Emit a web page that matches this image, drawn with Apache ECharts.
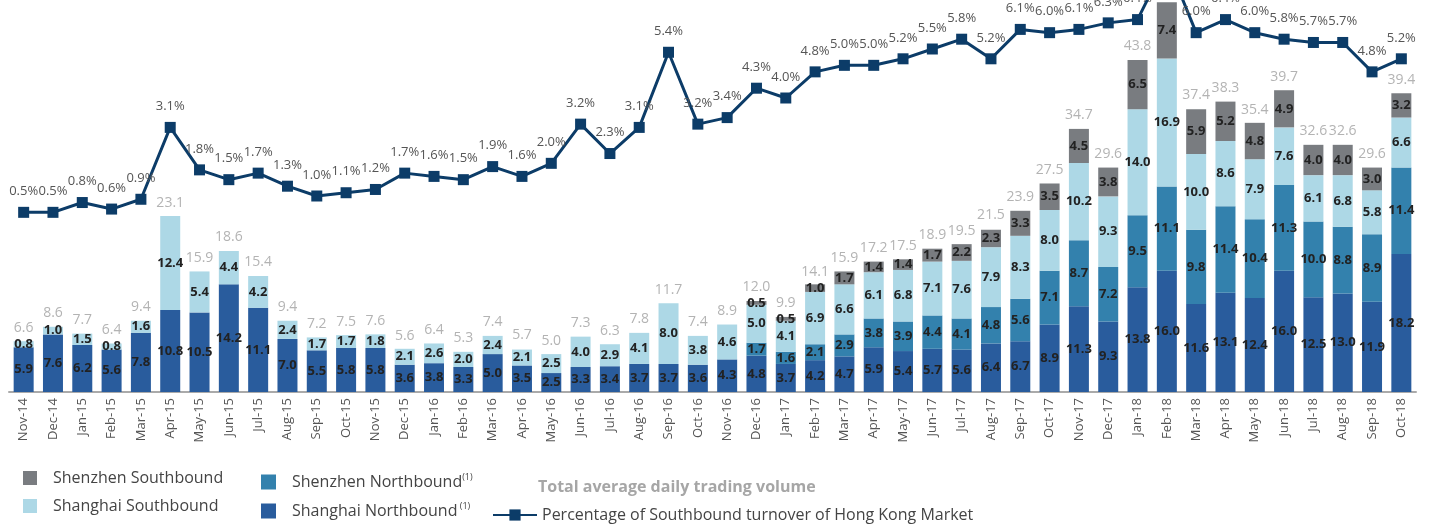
<!DOCTYPE html>
<html>
<head>
<meta charset="utf-8">
<script src="https://cdn.jsdelivr.net/npm/echarts@6/dist/echarts.min.js"></script>
<style>
  html, body { margin: 0; padding: 0; background: #fff; }
  #chart { width: 1432px; height: 527px; }
</style>
</head>
<body>
<div id="chart"></div>
<script>
const months = ["Nov-14","Dec-14","Jan-15","Feb-15","Mar-15","Apr-15","May-15","Jun-15","Jul-15","Aug-15","Sep-15","Oct-15",
  "Nov-15","Dec-15","Jan-16","Feb-16","Mar-16","Apr-16","May-16","Jun-16","Jul-16","Aug-16","Sep-16","Oct-16",
  "Nov-16","Dec-16","Jan-17","Feb-17","Mar-17","Apr-17","May-17","Jun-17","Jul-17","Aug-17","Sep-17","Oct-17",
  "Nov-17","Dec-17","Jan-18","Feb-18","Mar-18","Apr-18","May-18","Jun-18","Jul-18","Aug-18","Sep-18","Oct-18"];

const shanghaiNorth = [5.9,7.6,6.2,5.6,7.8,10.8,10.5,14.2,11.1,7.0,5.5,5.8,
  5.8,3.6,3.8,3.3,5.0,3.5,2.5,3.3,3.4,3.7,3.7,3.6,
  4.3,4.8,3.7,4.2,4.7,5.9,5.4,5.7,5.6,6.4,6.7,8.9,
  11.3,9.3,13.8,16.0,11.6,13.1,12.4,16.0,12.5,13.0,11.9,18.2];

const shenzhenNorth = [null,null,null,null,null,null,null,null,null,null,null,null,
  null,null,null,null,null,null,null,null,null,null,null,null,
  null,1.7,1.6,2.1,2.9,3.8,3.9,4.4,4.1,4.8,5.6,7.1,
  8.7,7.2,9.5,11.1,9.8,11.4,10.4,11.3,10.0,8.8,8.9,11.4];

const shanghaiSouth = [0.8,1.0,1.5,0.8,1.6,12.4,5.4,4.4,4.2,2.4,1.7,1.7,
  1.8,2.1,2.6,2.0,2.4,2.1,2.5,4.0,2.9,4.1,8.0,3.8,
  4.6,5.0,4.1,6.9,6.6,6.1,6.8,7.1,7.6,7.9,8.3,8.0,
  10.2,9.3,14.0,16.9,10.0,8.6,7.9,7.6,6.1,6.8,5.8,6.6];

const shenzhenSouth = [null,null,null,null,null,null,null,null,null,null,null,null,
  null,null,null,null,null,null,null,null,null,null,null,null,
  null,0.5,0.5,1.0,1.7,1.4,1.4,1.7,2.2,2.3,3.3,3.5,
  4.5,3.8,6.5,7.4,5.9,5.2,4.8,4.9,4.0,4.0,3.0,3.2];

const totals = [6.6,8.6,7.7,6.4,9.4,23.1,15.9,18.6,15.4,9.4,7.2,7.5,
  7.6,5.6,6.4,5.3,7.4,5.7,5.0,7.3,6.3,7.8,11.7,7.4,
  8.9,12.0,9.9,14.1,15.9,17.2,17.5,18.9,19.5,21.5,23.9,27.5,
  34.7,29.6,43.8,51.4,37.4,38.3,35.4,39.7,32.6,32.6,29.6,39.4];

const southPct = [0.5,0.5,0.8,0.6,0.9,3.1,1.8,1.5,1.7,1.3,1.0,1.1,
  1.2,1.7,1.6,1.5,1.9,1.6,2.0,3.2,2.3,3.1,5.4,3.2,
  3.4,4.3,4.0,4.8,5.0,5.0,5.2,5.5,5.8,5.2,6.1,6.0,
  6.1,6.3,6.4,8.2,6.0,6.4,6.0,5.8,5.7,5.7,4.8,5.2];

const FONT = "Open Sans";
const PCT_NAME = "Percentage of Southbound turnover of Hong Kong Market";

const segLabel = {
  show: true,
  position: "inside",
  color: "#222",
  fontWeight: "bold",
  fontSize: 13,
  fontFamily: FONT,
  formatter: (p) => (p.value == null ? "" : p.value.toFixed(1))
};

function barSeries(name, data, color) {
  return {
    name: name,
    type: "bar",
    stack: "vol",
    barWidth: 20,
    data: data,
    itemStyle: { color: color },
    label: segLabel
  };
}

const legendRich = {
  gap: { width: 11 },
  txt: { fontSize: 16, color: "#444", fontFamily: FONT },
  sup: { fontSize: 9, color: "#444", fontFamily: FONT, padding: [0, 0, 9, 0] }
};

// one legend block per item so each sits where the reference puts it
function legendItem(name, left, top, size, sup) {
  return {
    left: left, top: top, itemWidth: size, itemHeight: size, icon: "rect",
    data: [name],
    formatter: (n) => "{gap|}{txt|" + n + "}" + (sup ? "{sup|" + sup + "}" : ""),
    textStyle: { rich: legendRich }
  };
}

const chart = echarts.init(document.getElementById("chart"));
chart.setOption({
  animation: false,
  textStyle: { fontFamily: FONT },
  grid: { left: 9, right: 16, top: 0, bottom: 135, containLabel: false },
  xAxis: {
    type: "category",
    data: months,
    axisTick: { show: false },
    axisLine: { lineStyle: { color: "#aaa", width: 2 } },
    axisLabel: { rotate: 90, interval: 0, color: "#555", fontSize: 13, margin: 6, fontFamily: FONT }
  },
  yAxis: [
    { type: "value", min: 0, max: 51.7, show: false },
    { type: "value", min: -5, max: 7, show: false }
  ],
  legend: [
    legendItem("Shenzhen Southbound", 18, 465, 14),
    legendItem("Shanghai Southbound", 18, 493, 14),
    legendItem("Shenzhen Northbound", 256, 468, 15, "(1)"),
    legendItem("Shanghai Northbound", 256, 497, 15, " (1)"),
    {
      left: 487, top: 502, itemWidth: 44, itemHeight: 14,
      data: [PCT_NAME],
      textStyle: { fontSize: 16, color: "#444", fontFamily: FONT }
    }
  ],
  graphic: [
    {
      type: "text", left: 538, top: 479,
      style: { text: "Total average daily trading volume", fill: "#a6a6a6", font: "bold 16px 'Open Sans'" }
    }
  ],
  series: [
    barSeries("Shanghai Northbound", shanghaiNorth, "#295c9d"),
    barSeries("Shenzhen Northbound", shenzhenNorth, "#3381ad"),
    barSeries("Shanghai Southbound", shanghaiSouth, "#add8e6"),
    barSeries("Shenzhen Southbound", shenzhenSouth, "#797c80"),
    {
      name: "Total",
      type: "scatter",
      yAxisIndex: 0,
      data: totals,
      symbolSize: 1,
      itemStyle: { color: "rgba(0,0,0,0)" },
      label: {
        show: true, position: "top", distance: 6, color: "#a0a0a0", fontSize: 14, fontFamily: FONT,
        formatter: (p) => p.value.toFixed(1)
      },
      z: 5
    },
    {
      name: PCT_NAME,
      type: "line",
      yAxisIndex: 1,
      data: southPct,
      symbol: "rect",
      symbolSize: 11,
      lineStyle: { color: "#0c3c68", width: 3 },
      itemStyle: { color: "#0c3c68" },
      label: {
        show: true, position: "top", distance: 9, color: "#555", fontSize: 13, fontFamily: FONT,
        formatter: (p) => p.value.toFixed(1) + "%"
      },
      z: 6
    }
  ]
});
</script>
</body>
</html>
